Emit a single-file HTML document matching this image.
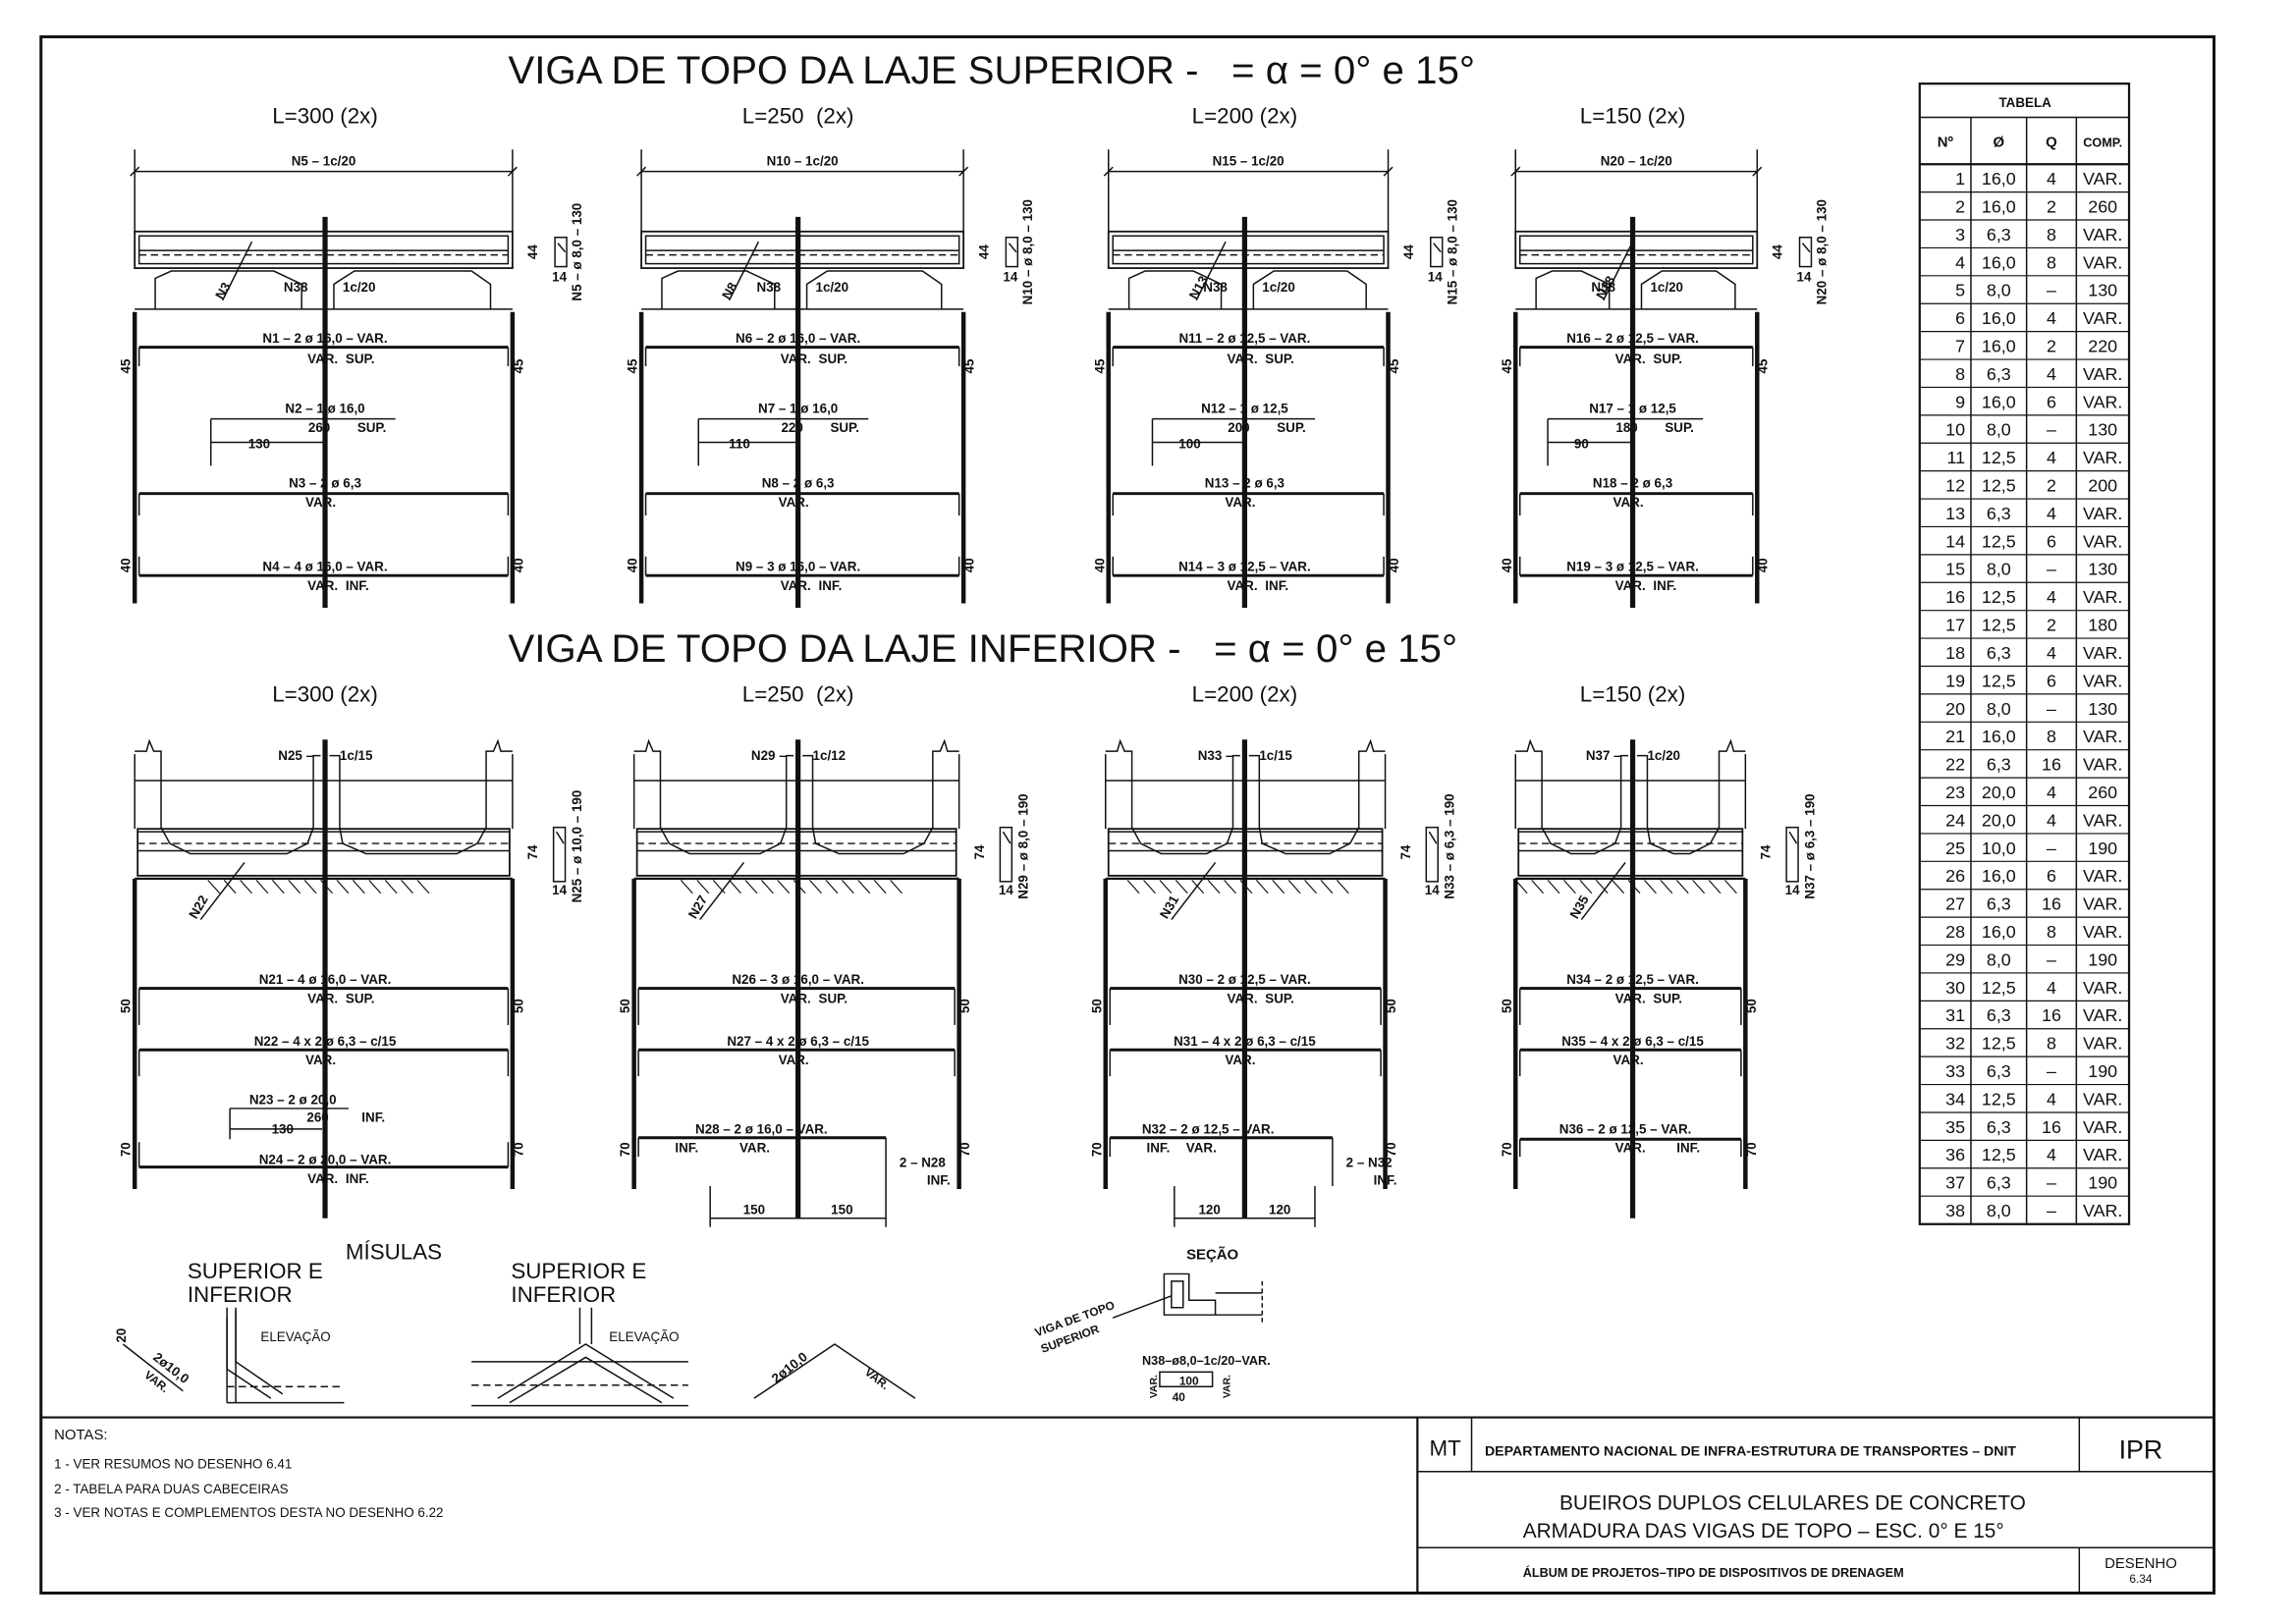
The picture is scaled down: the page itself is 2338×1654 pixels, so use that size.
<!DOCTYPE html>
<html><head><meta charset="utf-8"><style>
html,body{margin:0;padding:0;background:#fff}
svg{display:block}
text{font-family:"Liberation Sans",sans-serif;fill:#111}
</style></head><body>
<svg id="d" width="2338" height="1654" viewBox="0 0 1568 1109" xmlns="http://www.w3.org/2000/svg">
<rect x="0" y="0" width="1568" height="1109" fill="#fff"/>
<g id="g" stroke="#111" fill="none"></g>
<g id="t"></g>
</svg>
<script>
const G=document.getElementById('g'),T=document.getElementById('t');
function L(x1,y1,x2,y2,w,da){G.insertAdjacentHTML('beforeend',`<line x1="${x1}" y1="${y1}" x2="${x2}" y2="${y2}" stroke-width="${w||1}" ${da?'stroke-dasharray="'+da+'"':''}/>`)}
function P(d,w){G.insertAdjacentHTML('beforeend',`<path d="${d}" stroke-width="${w||1}"/>`)}
function R(x,y,w,h,sw){G.insertAdjacentHTML('beforeend',`<rect x="${x}" y="${y}" width="${w}" height="${h}" stroke-width="${sw||1}"/>`)}
function Tx(x,y,str,size,anchor,rot,bold){T.insertAdjacentHTML('beforeend',`<text x="${x}" y="${y}" font-size="${size}" ${bold?'font-weight="bold"':''} text-anchor="${anchor||'start'}" ${rot?`transform="rotate(${rot} ${x} ${y})"`:''}>${str}</text>`)}
// frame
R(28,25,1484,1063,2);
L(28,968,1512,968,1.5);
L(968,968,968,1088,1.5);L(968,1005,1512,1005,1);L(968,1057,1512,1057,1);
L(1005,968,1005,1005,1);L(1420,968,1420,1005,1);L(1420,1057,1420,1088,1);
Tx(987,994,'MT',15,'middle');
Tx(1014,994,'DEPARTAMENTO NACIONAL DE INFRA-ESTRUTURA DE TRANSPORTES – DNIT',9.5,'start',0,true);
Tx(1462,996,'IPR',18,'middle');
Tx(1065,1031,'BUEIROS DUPLOS CELULARES DE CONCRETO',14);
Tx(1040,1050,'ARMADURA DAS VIGAS DE TOPO – ESC. 0° E 15°',14);
Tx(1040,1077,'ÁLBUM DE PROJETOS–TIPO DE DISPOSITIVOS DE DRENAGEM',8.5,'start',0,true);
Tx(1462,1071,'DESENHO',10,'middle');Tx(1462,1081,'6.34',8,'middle');
Tx(37,983,'NOTAS:',10);
Tx(37,1003,'1 - VER RESUMOS NO DESENHO 6.41',9);
Tx(37,1020,'2 - TABELA PARA DUAS CABECEIRAS',9);
Tx(37,1036,'3 - VER NOTAS E COMPLEMENTOS DESTA NO DESENHO 6.22',9);
// titles
Tx(347,57,'VIGA DE TOPO DA LAJE SUPERIOR -&#160;&#160;&#160;= α = 0° e 15°',27);
Tx(347,452,'VIGA DE TOPO DA LAJE INFERIOR -&#160;&#160;&#160;= α = 0° e 15°',27);
// table
const tab=[[1,'16,0',4,'VAR.'],[2,'16,0',2,260],[3,'6,3',8,'VAR.'],[4,'16,0',8,'VAR.'],[5,'8,0','–',130],[6,'16,0',4,'VAR.'],[7,'16,0',2,220],[8,'6,3',4,'VAR.'],[9,'16,0',6,'VAR.'],[10,'8,0','–',130],[11,'12,5',4,'VAR.'],[12,'12,5',2,200],[13,'6,3',4,'VAR.'],[14,'12,5',6,'VAR.'],[15,'8,0','–',130],[16,'12,5',4,'VAR.'],[17,'12,5',2,180],[18,'6,3',4,'VAR.'],[19,'12,5',6,'VAR.'],[20,'8,0','–',130],[21,'16,0',8,'VAR.'],[22,'6,3',16,'VAR.'],[23,'20,0',4,260],[24,'20,0',4,'VAR.'],[25,'10,0','–',190],[26,'16,0',6,'VAR.'],[27,'6,3',16,'VAR.'],[28,'16,0',8,'VAR.'],[29,'8,0','–',190],[30,'12,5',4,'VAR.'],[31,'6,3',16,'VAR.'],[32,'12,5',8,'VAR.'],[33,'6,3','–',190],[34,'12,5',4,'VAR.'],[35,'6,3',16,'VAR.'],[36,'12,5',4,'VAR.'],[37,'6,3','–',190],[38,'8,0','–','VAR.']];
const cx=[1311,1346,1384,1418,1454];
R(1311,57,143,779,1.5);L(1311,80,1454,80);L(1311,112,1454,112,1.5);
for(let i=1;i<4;i++)L(cx[i],80,cx[i],836);
Tx(1383,73,'TABELA',9,'middle',0,true);
['Nº','Ø','Q','COMP.'].forEach((h,i)=>Tx((cx[i]+cx[i+1])/2,100,h,i==3?8.5:10,'middle',0,true));
tab.forEach((r,j)=>{const y=112+j*19.05;if(j>0)L(1311,y,1454,y,0.8);
 r.forEach((v,i)=>Tx(i==0?cx[1]-4:(i==3?(cx[3]+cx[4])/2:(cx[i]+cx[i+1])/2),y+14,v,12,i==0?'end':'middle'));});
// top panels
const TP=[[92,350,222,'L=300 (2x)','N5','N1 – 2 ø 16,0 – VAR.','N2 – 1 ø 16,0','260',130,'N3 – 2 ø 6,3','N4 – 4 ø 16,0 – VAR.','N3','N5 – ø 8,0 – 130'],
[438,658,545,'L=250&#160;&#160;(2x)','N10','N6 – 2 ø 16,0 – VAR.','N7 – 1 ø 16,0','220',110,'N8 – 2 ø 6,3','N9 – 3 ø 16,0 – VAR.','N8','N10 – ø 8,0 – 130'],
[757,948,850,'L=200 (2x)','N15','N11 – 2 ø 12,5 – VAR.','N12 – 1 ø 12,5','200',100,'N13 – 2 ø 6,3','N14 – 3 ø 12,5 – VAR.','N13','N15 – ø 8,0 – 130'],
[1035,1200,1115,'L=150 (2x)','N20','N16 – 2 ø 12,5 – VAR.','N17 – 1 ø 12,5','180',90,'N18 – 2 ø 6,3','N19 – 3 ø 12,5 – VAR.','N18','N20 – ø 8,0 – 130']];
TP.forEach(p=>{const[a,b,c]=p;const w=b-a;
 Tx(c,84,p[3],15,'middle');
 L(a,102,a,158);L(b,102,b,158);L(a,117,b,117);L(a-3,120,a+3,114);L(b-3,120,b+3,114);
 Tx((a+b)/2,113,p[4]+' – 1c/20',9,'middle',0,true);
 R(a,158,w,25,1.2);R(a+3,161,w-6,19,1);L(a+3,171,b-3,171);L(a+3,174,b-3,174,1,'5 3');
 L(a+80,165,a+60,205);Tx(a+60,205,p[11],9,'start',-60,true);
 P(`M${a+14} 211 V190 L${a+25} 185 H${c-35} L${c-16} 194 V211`);P(`M${c+6} 211 V194 L${c+20} 185 H${b-28} L${b-15} 194 V211`);
 Tx(c-20,199,'N38',9,'middle',0,true);Tx(c+12,199,'1c/20',9,'start',0,true);
 L(a,211,b,211);
 L(c,148,c,415,3.5);L(a,213,a,412,3);L(b,213,b,412,3);
 L(a+3,237,b-3,237,2);L(a+3,237,a+3,250);L(b-3,237,b-3,250);
 Tx(c,234,p[5],9,'middle',0,true);Tx(c-12,248,'VAR.',9,'start',0,true);Tx(c+14,248,'SUP.',9,'start',0,true);
 const xL=c-(p[8]*0.5+13);L(xL,286,c+48,286);L(xL,286,xL,318);L(xL,302,c,302);
 Tx(c,282,p[6],9,'middle',0,true);Tx(c-4,295,p[7],9,'middle',0,true);Tx(c+22,295,'SUP.',9,'start',0,true);Tx((xL+c)/2-6,306,p[8],9,'middle',0,true);
 L(a+3,337,b-3,337,2);L(a+3,337,a+3,352);L(b-3,337,b-3,352);
 Tx(c,333,p[9],9,'middle',0,true);Tx(c-3,346,'VAR.',9,'middle',0,true);
 L(a+3,393,b-3,393,2);L(a+3,380,a+3,393);L(b-3,380,b-3,393);
 Tx(c,390,p[10],9,'middle',0,true);Tx(c-12,403,'VAR.',9,'start',0,true);Tx(c+14,403,'INF.',9,'start',0,true);
 Tx(a-3,250,'45',9,'middle',-90,true);Tx(b+7,250,'45',9,'middle',-90,true);Tx(a-3,386,'40',9,'middle',-90,true);Tx(b+7,386,'40',9,'middle',-90,true);
 Tx(b+17,172,'44',9,'middle',-90,true);R(b+29,162,8,20);L(b+31,166,b+36,172);Tx(b+32,192,'14',9,'middle',0,true);
 Tx(b+47,172,p[12],9,'middle',-90,true);
});
// bottom panels
const BP=[[92,350,222,'L=300 (2x)','N25 –','1c/15','N21 – 4 ø 16,0 – VAR.','N22 – 4 x 2 ø 6,3 – c/15','N22','74','N25 – ø 10,0 – 190'],
[433,655,545,'L=250&#160;&#160;(2x)','N29 –','1c/12','N26 – 3 ø 16,0 – VAR.','N27 – 4 x 2 ø 6,3 – c/15','N27','74','N29 – ø 8,0 – 190'],
[755,946,850,'L=200 (2x)','N33 –','1c/15','N30 – 2 ø 12,5 – VAR.','N31 – 4 x 2 ø 6,3 – c/15','N31','74','N33 – ø 6,3 – 190'],
[1035,1192,1115,'L=150 (2x)','N37 –','1c/20','N34 – 2 ø 12,5 – VAR.','N35 – 4 x 2 ø 6,3 – c/15','N35','74','N37 – ø 6,3 – 190']];
BP.forEach((p,k)=>{const[a,b,c]=p;const w=b-a;
 Tx(c,479,p[3],15,'middle');
 L(a,515,a,566);L(b,515,b,566);L(a,533,b,533);
 P(`M${a} 513 H${a+8} L${a+10} 506 L${a+13} 513 H${a+18} V565 L${a+24} 576 L${a+38} 583 H${c-26} L${c-12} 576 L${c-8} 565 V516 H${c-3}`);
 P(`M${b} 513 H${b-8} L${b-10} 506 L${b-13} 513 H${b-18} V565 L${b-24} 576 L${b-38} 583 H${c+28} L${c+12} 576 L${c+10} 565 V516 H${c+3}`);
 Tx(c-8,519,p[4],9,'end',0,true);Tx(c+10,519,p[5],9,'start',0,true);
 R(a+2,566,w-4,32,1.2);L(a+2,568,b-2,568);L(a+2,576,b-2,576,1,'5 3');L(a+2,581,b-2,581);
 L(a,600,b,600,1.5);
 for(let i=0;i<14;i++){L(c-80+i*11,601,c-72+i*11,610,0.8);}
 L(a+75,589,a+45,628);Tx(a+42,628,p[8],9,'start',-60,true);
 L(c,505,c,832,3.5);L(a,600,a,812,3);L(b,600,b,812,3);
 L(a+3,675,b-3,675,2);L(a+3,675,a+3,700);L(b-3,675,b-3,700);
 Tx(c,672,p[6],9,'middle',0,true);Tx(c-12,685,'VAR.',9,'start',0,true);Tx(c+14,685,'SUP.',9,'start',0,true);
 L(a+3,717,b-3,717,2);L(a+3,717,a+3,735);L(b-3,717,b-3,735);
 Tx(c,714,p[7],9,'middle',0,true);Tx(c-3,727,'VAR.',9,'middle',0,true);
 Tx(a-3,687,'50',9,'middle',-90,true);Tx(b+7,687,'50',9,'middle',-90,true);
 Tx(a-3,785,'70',9,'middle',-90,true);Tx(b+7,785,'70',9,'middle',-90,true);
 if(k==0){L(157,757,238,757);L(157,757,157,778);L(157,771,220,771);
  Tx(200,754,'N23 – 2 ø 20,0',9,'middle',0,true);Tx(217,766,'260',9,'middle',0,true);Tx(247,766,'INF.',9,'start',0,true);Tx(193,774,'130',9,'middle',0,true);
  L(95,797,347,797,2);L(95,780,95,797);L(347,780,347,797);
  Tx(222,795,'N24 – 2 ø 20,0 – VAR.',9,'middle',0,true);Tx(210,808,'VAR.',9,'start',0,true);Tx(236,808,'INF.',9,'start',0,true);}
 else if(k<3){const d=k==1?60:48;L(a+3,777,c+60,777,2);L(a+3,777,a+3,790);L(c+60,777,c+60,810);
  Tx(c-25,774,(k==1?'N28 – 2 ø 16,0 – VAR.':'N32 – 2 ø 12,5 – VAR.'),9,'middle',0,true);
  Tx(a+28,787,'INF.',9,'start',0,true);Tx(c-40,787,'VAR.',9,'start',0,true);
  Tx(c+85,797,(k==1?'2 – N28':'2 – N32'),9,'middle',0,true);Tx(c+88,809,'INF.',9,'start',0,true);
  L(c-d,810,c-d,838);L(c+d,810,c+d,838);L(c-d,832,c+d,832);
  Tx(c-d/2,829,k==1?'150':'120',9,'middle',0,true);Tx(c+d/2,829,k==1?'150':'120',9,'middle',0,true);}
 else{L(a+3,778,b-3,778,2);L(a+3,778,a+3,790);L(b-3,778,b-3,790);
  Tx(c-5,774,'N36 – 2 ø 12,5 – VAR.',9,'middle',0,true);Tx(c-12,787,'VAR.',9,'start',0,true);Tx(c+30,787,'INF.',9,'start',0,true);}
 Tx(b+17,582,p[9],9,'middle',-90,true);R(b+28,565,8,37);L(b+30,568,b+35,576);Tx(b+32,611,'14',9,'middle',0,true);
 Tx(b+47,578,p[10],9,'middle',-90,true);
});
// misulas
Tx(236,860,'MÍSULAS',15);
Tx(128,873,'SUPERIOR E',15);Tx(128,889,'INFERIOR',15);
Tx(349,873,'SUPERIOR E',15);Tx(349,889,'INFERIOR',15);
L(155,893,155,958);L(161,893,161,958);P('M155 900 V935 L185 955 M161 895 V930 L193 952');
L(155,947,235,947,1,'5 3');L(155,958,235,958);Tx(178,916,'ELEVAÇÃO',9);
P('M84 918 L125 950');Tx(86,917,'20',9,'start',-90,true);Tx(104,928,'2ø10,0',9,'start',38,true);Tx(98,940,'VAR.',8,'start',38,true);
L(322,930,470,930);L(322,960,470,960);L(322,946,470,946,1,'5 3');
P('M340 955 L400 918 L460 955 M348 958 L400 927 L452 958 M396 893 V918 M404 893 V918');Tx(416,916,'ELEVAÇÃO',9);
P('M515 955 L570 918 L625 955');Tx(530,945,'2ø10,0',9,'start',-38,true);Tx(590,938,'VAR.',8,'start',38,true);
Tx(828,860,'SEÇÃO',10,'middle',0,true);
P('M795 870 H812 V888 H830 V898 H795 Z M800 875 H808 V893 H800 Z M830 883 H862 M830 898 H862');L(862,875,862,905,1,'3 2');
Tx(708,913,'VIGA DE TOPO',8,'start',-20,true);Tx(712,924,'SUPERIOR',8,'start',-20,true);L(760,900,800,885);
Tx(780,932,'N38–ø8,0–1c/20–VAR.',8.5,'start',0,true);R(792,937,36,10);Tx(812,946,'100',8,'middle',0,true);Tx(805,957,'40',8,'middle',0,true);
Tx(790,955,'VAR.',7,'start',-90,true);Tx(840,955,'VAR.',7,'start',-90,true);
</script>
</body></html>
